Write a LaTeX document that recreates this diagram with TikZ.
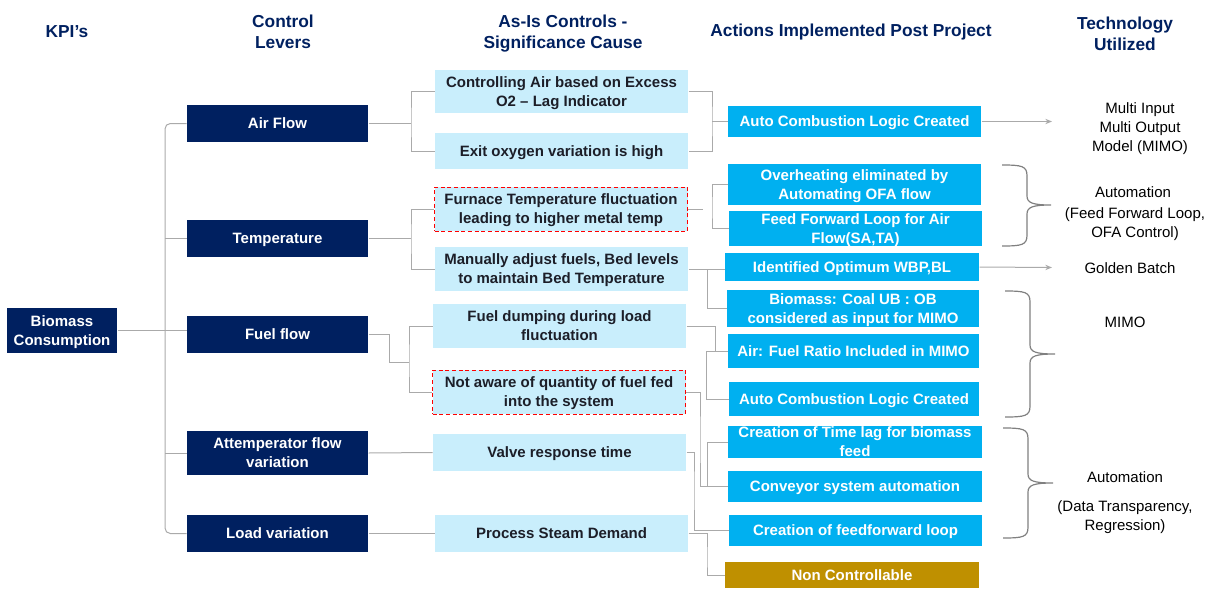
\documentclass[tikz,border=0pt]{standalone}
\usepackage{fontspec}
\setmainfont{Liberation Sans}
\usetikzlibrary{arrows.meta}

\definecolor{navy}{RGB}{0,32,96}
\definecolor{paleblue}{RGB}{201,238,252}
\definecolor{brightblue}{RGB}{0,176,240}
\definecolor{gold}{RGB}{191,144,0}
\definecolor{inkdark}{RGB}{28,30,40}
\definecolor{linkgray}{RGB}{170,170,170}
\definecolor{bracegray}{RGB}{128,128,128}

\newcommand\boxfont{\fontsize{11.25}{14.25}\selectfont}
\newcommand\headfont{\fontsize{13}{15.75}\selectfont}

\tikzset{every picture/.style={line width=0.75pt}}
\tikzset{
  boxsize/.style 2 args={minimum width=#1*0.75pt, minimum height=#2*0.75pt},
  head/.style={text=navy, font=\headfont\bfseries, align=center, inner sep=0.75pt},
  lever/.style={fill=navy, text=white, font=\boxfont\bfseries, align=center, inner sep=0pt, text depth=0pt},
  cause/.style={fill=paleblue, text=inkdark, font=\boxfont\bfseries, align=center, inner sep=0pt, text depth=0pt},
  gap/.style={cause, draw=red, dashed, dash pattern=on 3pt off 2pt},
  action/.style={fill=brightblue, text=white, font=\boxfont\bfseries, align=center, inner sep=0pt, text depth=0pt},
  fixed/.style={fill=gold, text=white, font=\boxfont\bfseries, align=center, inner sep=0pt, text depth=0pt},
  tech/.style={text=black, font=\boxfont, align=center, inner sep=0.75pt},
  link/.style={draw=linkgray, line width=0.75pt},
  brace/.style={draw=bracegray, line width=0.9pt},
}

\begin{document}
\begin{tikzpicture}[x=0.75pt,y=0.75pt,yscale=-1,xscale=1]
\useasboundingbox (0,0) rectangle (1206,589);

% Text Node
\node (hkpi) at (67,32) [head] {KPI’s};
% Text Node
\node (hlever) at (283,32) [head] {Control\\Levers};
% Text Node
\node (hcause) at (563,34) [head] {As-Is Controls -\\Significance Cause};
% Text Node
\node (haction) at (851,32) [head] {Actions Implemented Post Project};
% Text Node
\node (htech) at (1125,34) [head] {Technology\\Utilized};

%Shape: Rectangle
\node (biomass) at (62,330.5) [lever, boxsize={110}{45}] {Biomass\\Consumption};

%Shape: Rectangle
\node (airflow) at (277.5,123.5) [lever, boxsize={181}{37}] {Air Flow};
\node (temperature) at (277.5,238.5) [lever, boxsize={181}{37}] {Temperature};
\node (fuelflow) at (277.5,334.5) [lever, boxsize={181}{37}] {Fuel flow};
\node (attemp) at (277.5,453) [lever, boxsize={181}{44}] {Attemperator flow\\variation};
\node (load) at (277.5,533.5) [lever, boxsize={181}{37}] {Load variation};

%Shape: Rectangle
\node (c1) at (561.5,91.5) [cause, boxsize={253}{43}] {Controlling Air based on Excess\\O2 – Lag Indicator};
\node (c2) at (561.5,151) [cause, boxsize={253}{36}] {Exit oxygen variation is high};
\node (c3) at (561,209) [gap, boxsize={253}{44}] {Furnace Temperature fluctuation\\leading to higher metal temp};
\node (c4) at (561.5,269) [cause, boxsize={253}{44}] {Manually adjust fuels, Bed levels\\to maintain Bed Temperature};
\node (c5) at (559.5,326) [cause, boxsize={253}{44}] {Fuel dumping during load\\fluctuation};
\node (c6) at (559,392) [gap, boxsize={253}{44}] {Not aware of quantity of fuel fed\\into the system};
\node (c7) at (559.5,452.5) [cause, boxsize={253}{37}] {Valve response time};
\node (c8) at (561.5,533.5) [cause, boxsize={253}{37}] {Process Steam Demand};

%Shape: Rectangle
\node (a1) at (854.5,121.5) [action, boxsize={253}{31}] {Auto Combustion Logic Created};
\node (a2) at (854.5,184.5) [action, boxsize={253}{41}] {Overheating eliminated by\\Automating OFA flow};
\node (a3) at (855.5,228.5) [action, boxsize={253}{35}] {Feed Forward Loop for Air\\Flow(SA,TA)};
\node (a4) at (852,267) [action, boxsize={254}{28}] {Identified Optimum WBP,BL};
\node (a5) at (853,308.5) [action, boxsize={252}{37}] {Biomass: Coal UB : OB\\considered as input for MIMO};
\node (a6) at (853.5,351) [action, boxsize={251}{34}] {Air: Fuel Ratio Included in MIMO};
\node (a7) at (854,399) [action, boxsize={250}{34}] {Auto Combustion Logic Created};
\node (a8) at (855,442) [action, boxsize={254}{32}] {Creation of Time lag for biomass\\feed};
\node (a9) at (855,486.5) [action, boxsize={254}{31}] {Conveyor system automation};
\node (a10) at (855.5,530.5) [action, boxsize={253}{31}] {Creation of feedforward loop};
\node (a11) at (852,575) [fixed, boxsize={254}{26}] {Non Controllable};

% Text Node
\node (t1) at (1140,128.5) [tech] {Multi Input\\Multi Output\\Model (MIMO)};
\node (t2) at (1133,192) [tech] {Automation};
\node (t2b) at (1135,224.5) [tech] {(Feed Forward Loop,\\OFA Control)};
\node (t3) at (1130,268) [tech] {Golden Batch};
\node (t4) at (1125,322) [tech] {MIMO};
\node (t5) at (1125,477) [tech] {Automation};
\node (t5b) at (1125,517) [tech] {(Data Transparency,\\Regression)};

%Joints of the connectors
\coordinate (trunk) at (165,330.5);
\coordinate (f1) at (411,123.5);
\coordinate (f2) at (411,238.5);
\coordinate (k3) at (389,362);
\coordinate (f3) at (409,362);
\coordinate (g1) at (712,121.5);
\coordinate (s3) at (703,209);
\coordinate (g2) at (712,209);
\coordinate (g4) at (707,269);
\coordinate (g5) at (715,351);
\coordinate (g6) at (706,351);
\coordinate (g7) at (700,440);
\coordinate (g8) at (707,486.5);
\coordinate (g9) at (694,490);
\coordinate (g10) at (707,560);
\coordinate (e1) at (1052,121.5);
\coordinate (e2) at (1052,267.5);

%Straight Lines
\draw [link] (biomass.east) -- (biomass.east -| fuelflow.west);
\draw [link, rounded corners=4] (airflow.west) -| (trunk) |- (load.west);
\draw [link] (temperature.west) -- (temperature.west -| trunk);
\draw [link] (attemp.west) -- (attemp.west -| trunk);

%Straight Lines
\draw [link] (airflow.east) -- (f1);
\draw [link] (c1.west) -| (f1) |- (c2.west);
\draw [link] (temperature.east) -- (f2);
\draw [link] (c3.west) -| (f2) |- (c4.west);
\draw [link] (fuelflow.east) -| (k3) -- (f3);
\draw [link] (c5.west) -| (f3) |- (c6.west);
\draw [link] (attemp.east) -- (c7.west);
\draw [link] (load.east) -- (c8.west);

%Straight Lines
\draw [link] (c1.east) -| (g1) |- (c2.east);
\draw [link] (g1) -- (a1.west);
\draw [link] (c3.east) -- (s3);
\draw [link] (a2.west) -| (g2) |- (a3.west);
\draw [link] (c4.east) -- (c4.east -| a4.west);
\draw [link] (g4) |- (a5.west);
\draw [link] (c5.east) -| (g5);
\draw [link] (a6.west) -| (g6) |- (a7.west);
\draw [link] (c6.east) -| (g7) |- (a9.west);
\draw [link] (a8.west) -| (g8);
\draw [link] (c7.east) -| (g9) |- (a10.west);
\draw [link] (c8.east) -| (g10) |- (a11.west);

%Straight Lines
\draw [link, -{Stealth[length=5pt,width=4pt]}] (a1.east) -- (e1);
\draw [link, -{Stealth[length=5pt,width=4pt]}] (a4.east) -- (e2);

%Shape: Brace
\draw [brace] (1002,165) .. controls (1022,165) and (1027,166) .. (1027,176) -- (1027,196) .. controls (1027,203) and (1033,205) .. (1051,205) .. controls (1033,205) and (1027,207) .. (1027,214) -- (1027,235) .. controls (1027,245) and (1022,246) .. (1002,246) ;
%Shape: Brace
\draw [brace] (1005,291) .. controls (1025,291) and (1030,292) .. (1030,302) -- (1030,345) .. controls (1030,352) and (1036,354) .. (1055,354) .. controls (1036,354) and (1030,356) .. (1030,363) -- (1030,406) .. controls (1030,416) and (1025,417) .. (1005,417) ;
%Shape: Brace
\draw [brace] (1003,428) .. controls (1023,428) and (1028,429) .. (1028,439) -- (1028,474) .. controls (1028,481) and (1034,483) .. (1053,483) .. controls (1034,483) and (1028,485) .. (1028,492) -- (1028,527) .. controls (1028,537) and (1023,538) .. (1003,538) ;

\end{tikzpicture}
\end{document}
